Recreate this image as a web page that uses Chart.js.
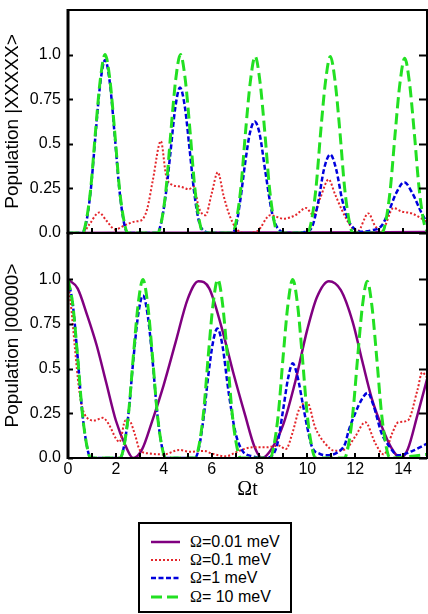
<!DOCTYPE html>
<html><head><meta charset="utf-8">
<script src="https://cdn.jsdelivr.net/npm/chart.js@4/dist/chart.umd.min.js"></script>
<style>
html,body{margin:0;padding:0;background:#fff;width:428px;height:614px;overflow:hidden;}
#wrapTop{position:absolute;left:0;top:0;width:428px;height:245px;}
#wrapBot{position:absolute;left:0;top:223px;width:428px;height:280px;}
#legend{position:absolute;left:138px;top:522px;width:150px;height:87px;border:2px solid #000;background:#fff;font-family:'Liberation Sans',Arial,sans-serif;font-size:16px;color:#000;}
#legend .row{position:absolute;left:0;width:150px;height:18px;}
#legend svg{position:absolute;left:11px;top:4px;}
#legend span.t{position:absolute;left:50px;top:0;line-height:18px;white-space:nowrap;}
#legend .om{font-family:'Liberation Serif','Times New Roman',serif;}
</style>
</head>
<body>
<div id="wrapTop"><canvas id="cTop"></canvas></div>
<div id="wrapBot"><canvas id="cBot"></canvas></div>
<div id="legend"></div>
<script>
// ---------- data ----------
const tMin = 0, tMax = 15;
const xTickValues = [0, 2, 4, 6, 8, 10, 12, 14];
const xTickMarks = [1, 2, 3, 4, 5, 6, 7, 8, 9, 10, 11, 12, 13, 14];
const yTickValues = [0, 0.25, 0.5, 0.75, 1.0];
const yTickLabels = ['0.0', '0.25', '0.5', '0.75', '1.0'];
const seriesNames = ['Ω=0.01 meV', 'Ω=0.1 meV', 'Ω=1 meV', 'Ω= 10 meV'];
const topTitle = 'Population |XXXXX>';
const bottomTitle = 'Population |00000>';
const xTitle = 'Ωt';

// top panel, population |XXXXX>
const purpleTop = [[0,0],[5,0.002],[10,0.003],[15,0.005]];
const redTop = [[0,0],[0.6,0],[0.9,0.05],[1.3,0.115],[1.6,0.07],[1.97,0.02],[2.4,0.045],[2.83,0.065],[3.05,0.07],[3.3,0.13],[3.55,0.3],[3.88,0.515],[4.1,0.32],[4.35,0.27],[4.7,0.26],[5.05,0.245],[5.25,0.26],[5.47,0.14],[5.75,0.10],[6.0,0.22],[6.26,0.34],[6.5,0.21],[6.72,0.11],[7.0,0.03],[7.35,0.0],[7.9,0.01],[8.45,0.1],[9.0,0.08],[9.5,0.1],[9.95,0.14],[10.25,0.1],[10.55,0.2],[10.89,0.3],[11.15,0.22],[11.44,0.13],[11.86,0.03],[12.1,0.01],[12.55,0.11],[12.83,0.04],[13.1,0.01],[13.6,0.14],[13.95,0.12],[14.36,0.11],[14.85,0.075],[15,0.06]];
const blueTop = [[0,0],[0.6,0],[0.75,0.05],[0.95,0.24],[1.15,0.55],[1.35,0.84],[1.55,0.97],[1.75,0.84],[1.95,0.55],[2.15,0.24],[2.35,0.05],[2.5,0],
[3.72,0],[3.88,0.05],[4.08,0.21],[4.28,0.45],[4.48,0.7],[4.68,0.815],[4.88,0.71],[5.08,0.47],[5.28,0.22],[5.48,0.06],[5.7,0.01],[6.0,0],
[6.8,0],[7.0,0.03],[7.2,0.185],[7.4,0.39],[7.6,0.56],[7.8,0.625],[8.0,0.56],[8.25,0.34],[8.53,0.11],[8.8,0.02],[9.2,0.0],
[9.9,0.005],[10.2,0.035],[10.45,0.17],[10.7,0.36],[10.96,0.44],[11.2,0.36],[11.45,0.19],[11.72,0.07],[12.0,0.02],[12.3,0.007],
[12.7,0.015],[13.1,0.04],[13.4,0.12],[13.7,0.22],[14.05,0.285],[14.4,0.22],[14.78,0.11],[15,0.06]];
const greenTop = [[0,0],[0.6,0],[0.75,0.06],[0.95,0.25],[1.15,0.57],[1.35,0.86],[1.55,1.0],[1.75,0.86],[1.95,0.57],[2.15,0.25],[2.35,0.06],[2.5,0],
[3.75,0],[3.9,0.06],[4.1,0.25],[4.3,0.57],[4.5,0.86],[4.7,1.0],[4.9,0.86],[5.1,0.57],[5.3,0.25],[5.5,0.06],[5.65,0],
[6.87,0],[7.02,0.06],[7.22,0.25],[7.42,0.57],[7.62,0.85],[7.82,0.99],[8.02,0.85],[8.22,0.57],[8.42,0.25],[8.62,0.06],[8.77,0],
[10.01,0],[10.16,0.06],[10.36,0.25],[10.56,0.57],[10.76,0.85],[10.96,0.99],[11.16,0.85],[11.36,0.57],[11.56,0.25],[11.76,0.06],[11.91,0],
[13.12,0],[13.27,0.06],[13.47,0.25],[13.67,0.56],[13.87,0.84],[14.07,0.98],[14.27,0.84],[14.47,0.56],[14.67,0.25],[14.87,0.06],[15,0.01]];

// bottom panel, population |00000>
const purpleBottom = [[0,1.0],[0.4,0.95],[0.8,0.8],[1.2,0.63],[1.6,0.42],[2.0,0.21],[2.4,0.07],[2.72,0.0],[3.1,0.05],[3.5,0.2],[4.0,0.41],[4.5,0.65],[5.0,0.89],[5.45,0.99],[5.9,0.95],[6.4,0.74],[6.9,0.48],[7.4,0.24],[7.8,0.06],[8.1,0.0],[8.5,0.05],[9.0,0.19],[9.5,0.43],[10.0,0.72],[10.4,0.9],[10.9,0.99],[11.4,0.94],[11.9,0.76],[12.3,0.54],[12.7,0.33],[13.1,0.18],[13.5,0.06],[13.9,0.0],[14.2,0.05],[14.6,0.24],[15,0.44]];
const redBottom = [[0,1.0],[0.15,0.82],[0.3,0.6],[0.45,0.4],[0.6,0.28],[0.8,0.225],[1.1,0.21],[1.45,0.225],[1.7,0.19],[2.0,0.11],[2.15,0.09],[2.4,0.21],[2.55,0.21],[2.8,0.13],[3.0,0.045],[3.4,0.025],[4.0,0.02],[4.65,0.045],[5.1,0.035],[5.7,0.04],[6.0,0.025],[6.6,0.01],[7.15,0.04],[7.7,0.06],[8.3,0.06],[8.8,0.07],[9.1,0.05],[9.4,0.15],[9.65,0.27],[10.0,0.31],[10.33,0.17],[10.75,0.08],[11.15,0.04],[11.6,0.05],[12.0,0.12],[12.42,0.2],[12.85,0.08],[13.2,0.02],[13.55,0.14],[13.8,0.2],[14.2,0.21],[14.6,0.38],[14.8,0.48],[15,0.45]];
const blueBottom = [[0,1.0],[0.2,0.86],[0.4,0.57],[0.6,0.25],[0.8,0.06],[0.95,0],
[2.18,0],[2.33,0.06],[2.53,0.25],[2.73,0.55],[2.93,0.8],[3.13,0.91],[3.33,0.8],[3.53,0.55],[3.73,0.25],[3.93,0.06],[4.1,0],
[5.3,0],[5.46,0.05],[5.66,0.22],[5.86,0.46],[6.06,0.65],[6.24,0.725],[6.44,0.64],[6.72,0.36],[7.0,0.14],[7.29,0.04],[7.7,0.01],[8.2,0],
[8.5,0.01],[8.75,0.08],[9.0,0.28],[9.2,0.45],[9.39,0.53],[9.6,0.45],[9.8,0.31],[10.0,0.17],[10.2,0.06],[10.5,0.025],[10.8,0.015],[11.3,0.035],[11.58,0.08],[11.72,0.15],[12.0,0.25],[12.28,0.33],[12.52,0.365],[12.75,0.3],[13.1,0.14],[13.4,0.07],[13.8,0.015],[14.4,0.04],[15,0.08]];
const greenBottom = [[0,1.0],[0.2,0.86],[0.4,0.57],[0.6,0.25],[0.8,0.06],[0.95,0],
[2.18,0],[2.33,0.06],[2.53,0.25],[2.73,0.57],[2.93,0.86],[3.13,1.0],[3.33,0.86],[3.53,0.57],[3.73,0.25],[3.93,0.06],[4.08,0],
[5.31,0],[5.46,0.06],[5.66,0.25],[5.86,0.57],[6.06,0.86],[6.26,1.0],[6.46,0.86],[6.66,0.57],[6.86,0.25],[7.06,0.06],[7.21,0],
[8.44,0],[8.59,0.06],[8.79,0.25],[8.99,0.57],[9.19,0.86],[9.39,1.0],[9.59,0.86],[9.79,0.57],[9.99,0.25],[10.19,0.06],[10.34,0],
[11.55,0],[11.7,0.06],[11.9,0.25],[12.1,0.56],[12.3,0.85],[12.5,0.99],[12.7,0.85],[12.9,0.56],[13.1,0.25],[13.3,0.06],[13.45,0],
[15,0.02]];

// ---------- styles ----------
const styles = [
  {color:'#800080', width:2.5, dash:[], order:3},
  {color:'#e3262b', width:2, dash:[2,2], order:2},
  {color:'#0000dd', width:2.5, dash:[5,2.5], order:1},
  {color:'#22e022', width:3, dash:[11,5], order:0}
];
const SANS = "'Liberation Sans', Arial, Helvetica, sans-serif";
const SERIF = "'Liberation Serif', 'Times New Roman', serif";

function mkDatasets(list) {
  return list.map((pts, i) => ({
    label: seriesNames[i],
    data: pts.map(p => ({x: p[0], y: p[1]})),
    borderColor: styles[i].color,
    borderWidth: styles[i].width,
    borderDash: styles[i].dash,
    borderCapStyle: 'butt',
    order: styles[i].order,
    pointRadius: 0,
    fill: false,
    cubicInterpolationMode: 'monotone'
  }));
}

const framePlugin = {
  id: 'frame',
  afterDatasetsDraw(chart) {
    const {ctx, chartArea: a, scales} = chart;
    ctx.save();
    ctx.strokeStyle = '#000';
    ctx.lineWidth = 2;
    ctx.strokeRect(a.left, a.top, a.right - a.left, a.bottom - a.top);
    ctx.lineWidth = 3;
    ctx.beginPath(); ctx.moveTo(a.left, a.top - 1); ctx.lineTo(a.left, a.bottom + 1); ctx.stroke();
    ctx.lineWidth = 2;
    ctx.beginPath();
    yTickValues.forEach(v => {
      const y = Math.round(scales.y.getPixelForValue(v)) + 0.5;
      ctx.moveTo(a.left, y); ctx.lineTo(a.left + 5, y);
      ctx.moveTo(a.right, y); ctx.lineTo(a.right - 8, y);
    });
    xTickMarks.forEach(t => {
      const x = Math.round(scales.x.getPixelForValue(t));
      ctx.moveTo(x, a.bottom); ctx.lineTo(x, a.bottom - 5);
    });
    ctx.stroke();
    ctx.restore();
  }
};

function yAxis(max, title) {
  return {
    type: 'linear', min: 0, max: max,
    afterFit(s) { s.width = 68; s.paddingTop = 0; s.paddingBottom = 0; },
    afterBuildTicks(s) { s.ticks = yTickValues.map(v => ({value: v})); },
    grid: {display: false, drawTicks: false},
    border: {display: false},
    ticks: {
      padding: 7, color: '#000', font: {family: SANS, size: 16},
      callback: (v) => { const i = yTickValues.indexOf(v); return i >= 0 ? yTickLabels[i] : ''; }
    },
    title: {display: true, text: title, color: '#000', font: {family: SANS, size: 19}, padding: {top: 1, bottom: 0}}
  };
}

Chart.defaults.animation = false;

new Chart(document.getElementById('cTop'), {
  type: 'line',
  data: {datasets: mkDatasets([purpleTop, redTop, blueTop, greenTop])},
  options: {
    responsive: true, maintainAspectRatio: false, devicePixelRatio: 1,
    layout: {padding: {top: 10, right: 1, bottom: 12, left: 0}},
    plugins: {legend: {display: false}, tooltip: {enabled: false}},
    scales: {
      x: {type: 'linear', min: tMin, max: tMax, display: false},
      y: yAxis(1.25, topTitle)
    }
  },
  plugins: [framePlugin]
});

new Chart(document.getElementById('cBot'), {
  type: 'line',
  data: {datasets: mkDatasets([purpleBottom, redBottom, blueBottom, greenBottom])},
  options: {
    responsive: true, maintainAspectRatio: false, devicePixelRatio: 1,
    layout: {padding: {top: 10, right: 1, bottom: 0, left: 0}},
    plugins: {legend: {display: false}, tooltip: {enabled: false}},
    scales: {
      x: {
        type: 'linear', min: tMin, max: tMax,
        afterFit(s) { s.height = 45; s.paddingLeft = 0; s.paddingRight = 0; },
        afterBuildTicks(s) { s.ticks = xTickValues.map(v => ({value: v})); },
        grid: {display: false, drawTicks: false},
        border: {display: false},
        ticks: {padding: 2, color: '#000', font: {family: SANS, size: 16}, maxRotation: 0},
        title: {display: true, text: xTitle, color: '#000', font: {family: SERIF, size: 20}, padding: {top: 0, bottom: 1}}
      },
      y: yAxis(1.26, bottomTitle)
    }
  },
  plugins: [framePlugin]
});

// ---------- legend ----------
const legendRowsY = [18, 36, 54, 73];
const legend = document.getElementById('legend');
seriesNames.forEach((name, i) => {
  const row = document.createElement('div');
  row.className = 'row';
  row.style.top = (legendRowsY[i] - 9) + 'px';
  const st = styles[i];
  const dash = st.dash.length ? ` stroke-dasharray="${st.dash.join(' ')}"` : '';
  row.innerHTML = `<svg width="29" height="10" viewBox="0 0 29 10"><line x1="0" y1="5" x2="29" y2="5" stroke="${st.color}" stroke-width="${st.width}"${dash}/></svg>` +
    `<span class="t"><span class="om">${name.charAt(0)}</span>${name.slice(1)}</span>`;
  legend.appendChild(row);
});
</script>
</body></html>
